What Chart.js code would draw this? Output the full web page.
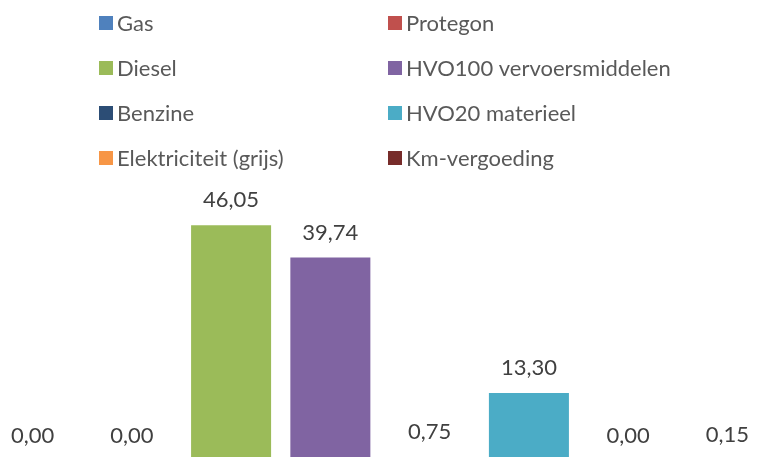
<!DOCTYPE html>
<html>
<head>
<meta charset="utf-8">
<script src="https://cdn.jsdelivr.net/npm/chart.js@4/dist/chart.umd.min.js"></script>
<style>
  html, body { margin: 0; padding: 0; background: #ffffff; overflow: hidden; }
  #wrap { position: relative; width: 760px; height: 457px; }
</style>
</head>
<body>
<div id="wrap"><canvas id="c"></canvas></div>
<script>
// ---- data ----
const categories = [''];
const seriesNames = ['Gas', 'Protegon', 'Diesel', 'HVO100 vervoersmiddelen', 'Benzine', 'HVO20 materieel', 'Elektriciteit (grijs)', 'Km-vergoeding'];
const seriesValues = [0.00, 0.00, 46.05, 39.74, 0.75, 13.30, 0.00, 0.15];
const seriesColors = ['#4F81BD', '#C0504D', '#9BBB59', '#8064A2', '#2C4D75', '#4BACC6', '#F79646', '#772C2A'];

const FONT = 'Lato, "Open Sans", "DejaVu Sans", sans-serif';

// value labels above every bar
const valueLabels = {
  id: 'valueLabels',
  afterDatasetsDraw(chart, args, o) {
    const ctx = chart.ctx;
    const yScale = chart.scales.y;
    ctx.save();
    ctx.font = o.font;
    ctx.fillStyle = o.color;
    ctx.textAlign = 'center';
    ctx.textBaseline = 'alphabetic';
    chart.data.datasets.forEach((ds, i) => {
      const meta = chart.getDatasetMeta(i);
      meta.data.forEach((el, j) => {
        const v = ds.data[j];
        const top = yScale.getPixelForValue(v);
        ctx.fillText(v.toFixed(2).replace('.', ','), el.x, top - o.offset);
      });
    });
    ctx.restore();
  }
};

// two-column legend grid
const gridLegend = {
  id: 'gridLegend',
  afterDraw(chart, args, o) {
    const ctx = chart.ctx;
    ctx.save();
    ctx.font = o.font;
    ctx.textAlign = 'left';
    ctx.textBaseline = 'alphabetic';
    chart.data.datasets.forEach((ds, i) => {
      const col = i % o.columns;
      const row = Math.floor(i / o.columns);
      const x = o.colX[col];
      const y = o.top + row * o.rowGap;
      ctx.fillStyle = ds.backgroundColor;
      ctx.fillRect(x, y, o.box, o.box);
      ctx.fillStyle = o.color;
      ctx.fillText(ds.label, x + o.box + o.textGap, y + o.box + o.baselineShift);
    });
    ctx.restore();
  }
};

const datasets = seriesNames.map((name, i) => ({
  label: name,
  data: [seriesValues[i]],
  backgroundColor: seriesColors[i],
  borderWidth: 0,
  categoryPercentage: 1.045,
  barPercentage: 0.806
}));

new Chart(document.getElementById('c'), {
  type: 'bar',
  data: { labels: categories, datasets: datasets },
  plugins: [valueLabels, gridLegend],
  options: {
    responsive: true,
    maintainAspectRatio: false,
    animation: false,
    layout: { padding: { top: 205, left: 0, right: 0, bottom: 0 } },
    scales: {
      x: { display: false, grid: { display: false } },
      y: { display: false, min: 0.8, max: 50, grid: { display: false } }
    },
    plugins: {
      legend: { display: false },
      tooltip: { enabled: false },
      valueLabels: { font: '22px ' + FONT, color: '#404040', offset: 18 },
      gridLegend: {
        font: '22px ' + FONT, color: '#595959',
        columns: 2, colX: [99, 388], top: 16, rowGap: 45,
        box: 14, textGap: 4, baselineShift: 0.5
      }
    }
  }
});
</script>
</body>
</html>
